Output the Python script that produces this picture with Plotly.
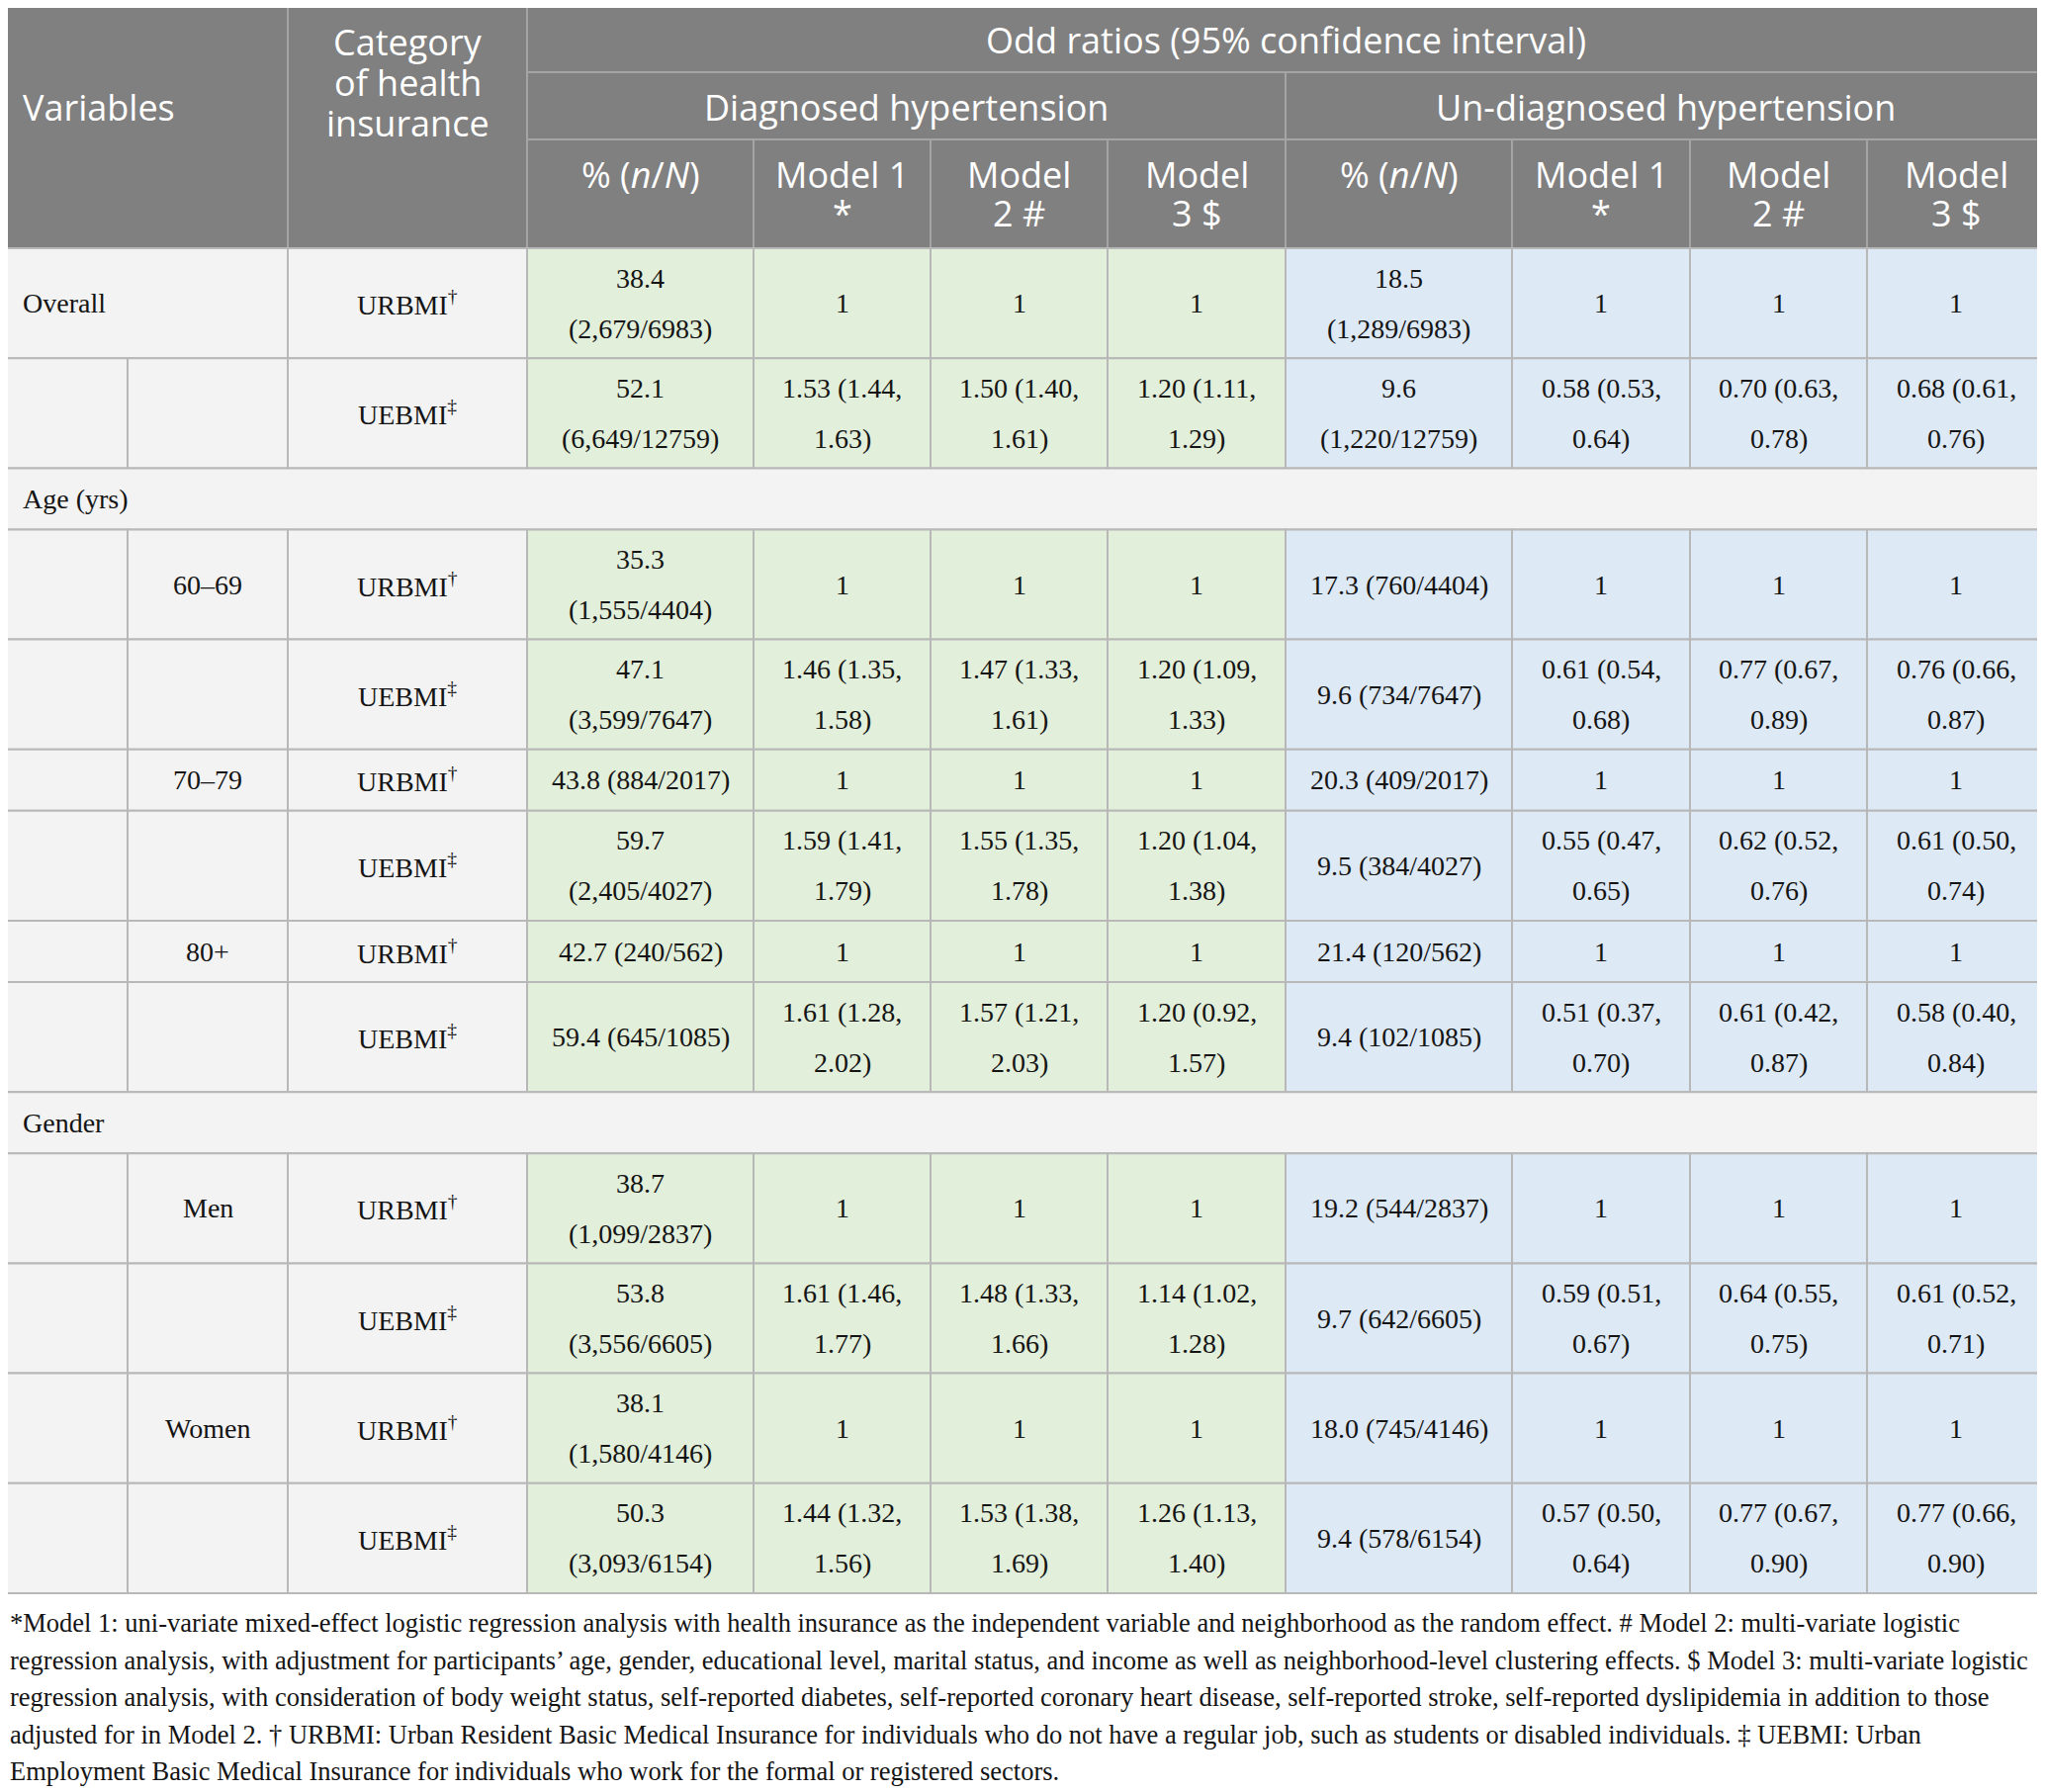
import plotly.graph_objects as go

# ---- table text / data ----
top_header = "Odd ratios (95% confidence interval)"
outcome_groups = ["Diagnosed hypertension", "Un-diagnosed hypertension"]
sub_headers = [["% (<i>n</i>/<i>N</i>)"], ["Model 1", "*"], ["Model", "2 #"], ["Model", "3 $"]]
left_headers = ["Variables", ["Category", "of health", "insurance"]]

insurance = ["URBMI<sup>†</sup>", "UEBMI<sup>‡</sup>"]
variables = ["Overall", "Age (yrs)", "Gender"]
subgroups = [[""], ["60–69", "70–79", "80+"], ["Men", "Women"]]

# diagnosed hypertension
diag_pct = [38.4, 52.1, 35.3, 47.1, 43.8, 59.7, 42.7, 59.4, 38.7, 53.8, 38.1, 50.3]
diag_n = ["2,679", "6,649", "1,555", "3,599", "884", "2,405", "240", "645", "1,099", "3,556", "1,580", "3,093"]
diag_N = [6983, 12759, 4404, 7647, 2017, 4027, 562, 1085, 2837, 6605, 4146, 6154]
diag_or1 = [None, (1.53, 1.44, 1.63), None, (1.46, 1.35, 1.58), None, (1.59, 1.41, 1.79),
            None, (1.61, 1.28, 2.02), None, (1.61, 1.46, 1.77), None, (1.44, 1.32, 1.56)]
diag_or2 = [None, (1.50, 1.40, 1.61), None, (1.47, 1.33, 1.61), None, (1.55, 1.35, 1.78),
            None, (1.57, 1.21, 2.03), None, (1.48, 1.33, 1.66), None, (1.53, 1.38, 1.69)]
diag_or3 = [None, (1.20, 1.11, 1.29), None, (1.20, 1.09, 1.33), None, (1.20, 1.04, 1.38),
            None, (1.20, 0.92, 1.57), None, (1.14, 1.02, 1.28), None, (1.26, 1.13, 1.40)]

# un-diagnosed hypertension
undiag_pct = [18.5, 9.6, 17.3, 9.6, 20.3, 9.5, 21.4, 9.4, 19.2, 9.7, 18.0, 9.4]
undiag_n = ["1,289", "1,220", "760", "734", "409", "384", "120", "102", "544", "642", "745", "578"]
undiag_N = [6983, 12759, 4404, 7647, 2017, 4027, 562, 1085, 2837, 6605, 4146, 6154]
undiag_or1 = [None, (0.58, 0.53, 0.64), None, (0.61, 0.54, 0.68), None, (0.55, 0.47, 0.65),
              None, (0.51, 0.37, 0.70), None, (0.59, 0.51, 0.67), None, (0.57, 0.50, 0.64)]
undiag_or2 = [None, (0.70, 0.63, 0.78), None, (0.77, 0.67, 0.89), None, (0.62, 0.52, 0.76),
              None, (0.61, 0.42, 0.87), None, (0.64, 0.55, 0.75), None, (0.77, 0.67, 0.90)]
undiag_or3 = [None, (0.68, 0.61, 0.76), None, (0.76, 0.66, 0.87), None, (0.61, 0.50, 0.74),
              None, (0.58, 0.40, 0.84), None, (0.61, 0.52, 0.71), None, (0.77, 0.66, 0.90)]

footnote_lines = [
    "*Model 1: uni-variate mixed-effect logistic regression analysis with health insurance as the independent variable and neighborhood as the random effect. # Model 2: multi-variate logistic",
    "regression analysis, with adjustment for participants’ age, gender, educational level, marital status, and income as well as neighborhood-level clustering effects. $ Model 3: multi-variate logistic",
    "regression analysis, with consideration of body weight status, self-reported diabetes, self-reported coronary heart disease, self-reported stroke, self-reported dyslipidemia in addition to those",
    "adjusted for in Model 2. † URBMI: Urban Resident Basic Medical Insurance for individuals who do not have a regular job, such as students or disabled individuals. ‡ UEBMI: Urban",
    "Employment Basic Medical Insurance for individuals who work for the formal or registered sectors.",
]

# ---- layout constants ----
W, H = 2068, 1812
PAGE_OFF = 8  # browser body margin; shift the axes so page pixels match the reference
col_x = [0, 129, 291, 533, 762, 941, 1120, 1300, 1529, 1709, 1888, 2068]
head_y = [4, 73, 141, 251]
tall_h, short_h = 111.2, 62
line_gap = 25.5
HEAD_BG, HEAD_LINE = "#7f807f", "#a4a5a4"
LEFT_BG, GREEN_BG, BLUE_BG = "#f3f3f3", "#e2efda", "#dde9f5"
GRID = "#b8b8b8"
SANS = "Open Sans"
SERIF = "Liberation Serif"
HEAD_SIZE, BODY_SIZE, NOTE_SIZE = 36, 28, 26.5
INK = "#141414"


def pct_lines(p, n, N):
    s = f"{p:.1f} ({n}/{N})"
    return [f"{p:.1f}", f"({n}/{N})"] if len(s) > 15 else [s]


def or_lines(v):
    if v is None:
        return ["1"]
    return [f"{v[0]:.2f} ({v[1]:.2f},", f"{v[2]:.2f})"]


shapes = []
annots = []


def cell(x0, x1, y0, y1, fill, line, lw=2):
    shapes.append(dict(type="rect", xref="x", yref="y", x0=x0, x1=x1, y0=y0, y1=y1,
                       fillcolor=fill, line=dict(color=line, width=lw), layer="below"))


def text(x, y, s, font, size, color, xanchor="center"):
    annots.append(dict(x=x, y=y, xref="x", yref="y", text=s, showarrow=False,
                       xanchor=xanchor, yanchor="middle",
                       font=dict(family=font, size=size, color=color)))


def lines_in(x, yc, lines, xanchor="center"):
    k = len(lines)
    for i, s in enumerate(lines):
        text(x, yc + (i - (k - 1) / 2) * 2 * line_gap, s, SERIF, BODY_SIZE, INK, xanchor)


# ---- header ----
cell(col_x[0], col_x[2], head_y[0], head_y[3], HEAD_BG, HEAD_LINE)
cell(col_x[2], col_x[3], head_y[0], head_y[3], HEAD_BG, HEAD_LINE)
cell(col_x[3], col_x[11], head_y[0], head_y[1], HEAD_BG, HEAD_LINE)
cell(col_x[3], col_x[7], head_y[1], head_y[2], HEAD_BG, HEAD_LINE)
cell(col_x[7], col_x[11], head_y[1], head_y[2], HEAD_BG, HEAD_LINE)
for c in range(3, 11):
    cell(col_x[c], col_x[c + 1], head_y[2], head_y[3], HEAD_BG, HEAD_LINE)

text(21, 108, left_headers[0], SANS, HEAD_SIZE, "white", "left")
for i, s in enumerate(left_headers[1]):
    text((col_x[2] + col_x[3]) / 2, 42 + i * 41, s, SANS, HEAD_SIZE, "white")
text((col_x[3] + col_x[11]) / 2, 40, top_header, SANS, HEAD_SIZE, "white")
text((col_x[3] + col_x[7]) / 2, 108, outcome_groups[0], SANS, HEAD_SIZE, "white")
text((col_x[7] + col_x[11]) / 2, 108, outcome_groups[1], SANS, HEAD_SIZE, "white")
for c in range(3, 11):
    for i, s in enumerate(sub_headers[(c - 3) % 4]):
        text((col_x[c] + col_x[c + 1]) / 2, 176 + i * 39, s, SANS, HEAD_SIZE, "white")

# ---- body ----
columns = [(diag_pct, diag_n, diag_N), diag_or1, diag_or2, diag_or3,
           (undiag_pct, undiag_n, undiag_N), undiag_or1, undiag_or2, undiag_or3]

y = head_y[3]
idx = 0
for var, subs in zip(variables, subgroups):
    if var != "Overall":
        cell(col_x[0], col_x[11], y, y + short_h, LEFT_BG, GRID)
        lines_in(21, y + short_h / 2, [var], "left")
        y += short_h
    for sub in subs:
        for k, ins in enumerate(insurance):
            vals = []
            for j, col in enumerate(columns):
                if j % 4 == 0:
                    vals.append(pct_lines(col[0][idx], col[1][idx], col[2][idx]))
                else:
                    vals.append(or_lines(col[idx]))
            h = tall_h if max(len(v) for v in vals) > 1 else short_h
            yc = y + h / 2
            if var == "Overall" and k == 0:
                cell(col_x[0], col_x[2], y, y + h, LEFT_BG, GRID)
                lines_in(21, yc, [var], "left")
            else:
                cell(col_x[0], col_x[1], y, y + h, LEFT_BG, GRID)
                cell(col_x[1], col_x[2], y, y + h, LEFT_BG, GRID)
                if k == 0 and sub:
                    lines_in((col_x[1] + col_x[2]) / 2, yc, [sub])
            cell(col_x[2], col_x[3], y, y + h, LEFT_BG, GRID)
            lines_in((col_x[2] + col_x[3]) / 2, yc, [ins])
            for j, v in enumerate(vals):
                c = 3 + j
                cell(col_x[c], col_x[c + 1], y, y + h, GREEN_BG if j < 4 else BLUE_BG, GRID)
                lines_in((col_x[c] + col_x[c + 1]) / 2, yc, v)
            y += h
            idx += 1

# ---- footnote ----
for i, s in enumerate(footnote_lines):
    text(PAGE_OFF, 1641 + i * 37.5, s, SERIF, NOTE_SIZE, INK, "left")

fig = go.Figure()
fig.update_layout(
    width=W - PAGE_OFF, height=H - PAGE_OFF,
    margin=dict(l=0, r=0, t=0, b=0),
    paper_bgcolor="white", plot_bgcolor="white",
    xaxis=dict(range=[PAGE_OFF, W], visible=False, fixedrange=True),
    yaxis=dict(range=[H, PAGE_OFF], visible=False, fixedrange=True),
    shapes=shapes, annotations=annots,
    showlegend=False,
)

fig.write_html("out.html")
